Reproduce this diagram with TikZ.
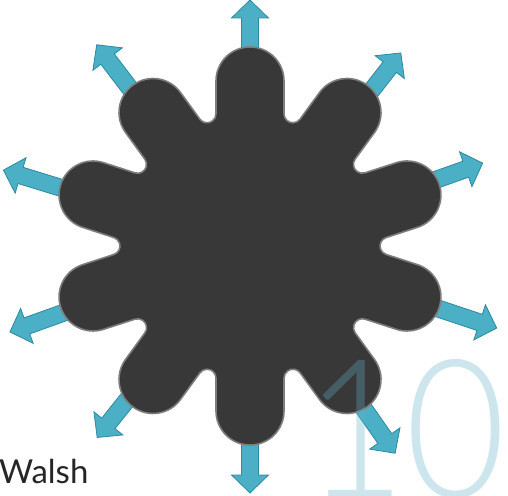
\documentclass[tikz,border=0pt]{standalone}
\usepackage{fontspec}
\setmainfont{Lato}
\IfFontExistsTF{Lato Light}{\newfontfamily\lightfont{Lato Light}}{\newfontfamily\lightfont{Lato}}
\definecolor{arrowfill}{RGB}{75,176,198}
\definecolor{arrowedge}{RGB}{42,138,158}
\definecolor{petal}{RGB}{56,56,56}
\definecolor{petaledge}{RGB}{125,125,125}
\definecolor{numcol}{RGB}{99,177,202}
\tikzset{
  blockarrow/.style={fill=arrowfill, draw=arrowedge, line width=0.8pt, line join=miter},
  flower/.style={fill=petal, draw=petaledge, line width=1.6pt},
}
\newcommand\outarrow[2]{%
  \draw[blockarrow, rotate=#1] (150,-8.5) -- ({#2-18},-8.5) -- ({#2-18},-18.5) -- (#2,0) -- ({#2-18},18.5) -- ({#2-18},8.5) -- (150,8.5) -- cycle;}
\begin{document}
\begin{tikzpicture}[x=1pt,y=1pt]
\clip (0,0) rectangle (508,495);
\begin{scope}[shift={(250,249)}]
  \outarrow{90}{246}
  \outarrow{52}{245}
  \outarrow{19.6}{247}
  \outarrow{-18.4}{260}
  \outarrow{-55}{253}
  \outarrow{-90}{247}
  \outarrow{-128.6}{245}
  \outarrow{-160.3}{255}
  \outarrow{162.9}{258}
  \outarrow{127.3}{253}
  \draw[flower] ([shift={(180:34)}]90:165)
    \foreach \i [evaluate=\i as \t using 90-36*\i] in {0,...,9} {
      arc[start angle=\t+90, end angle=\t-90, radius=34]
      -- ([shift={(\t-90:34)}]\t:132.1)
      arc[start angle=\t+90, end angle=\t+234, radius=8.9]
      -- ([shift={(\t+54:34)}]\t-36:165)
    } -- cycle;
\end{scope}
\node[anchor=base west, font=\lightfont\fontsize{193}{193}\selectfont, text=numcol, text opacity=0.32, inner sep=0, xscale=0.9, transform shape] (ten) at (305,-2) {10};
\node[anchor=base west, font=\fontsize{33}{33}\selectfont, text=black!85, inner sep=0] (walsh) at (-1,12) {Walsh};
\end{tikzpicture}
\end{document}
